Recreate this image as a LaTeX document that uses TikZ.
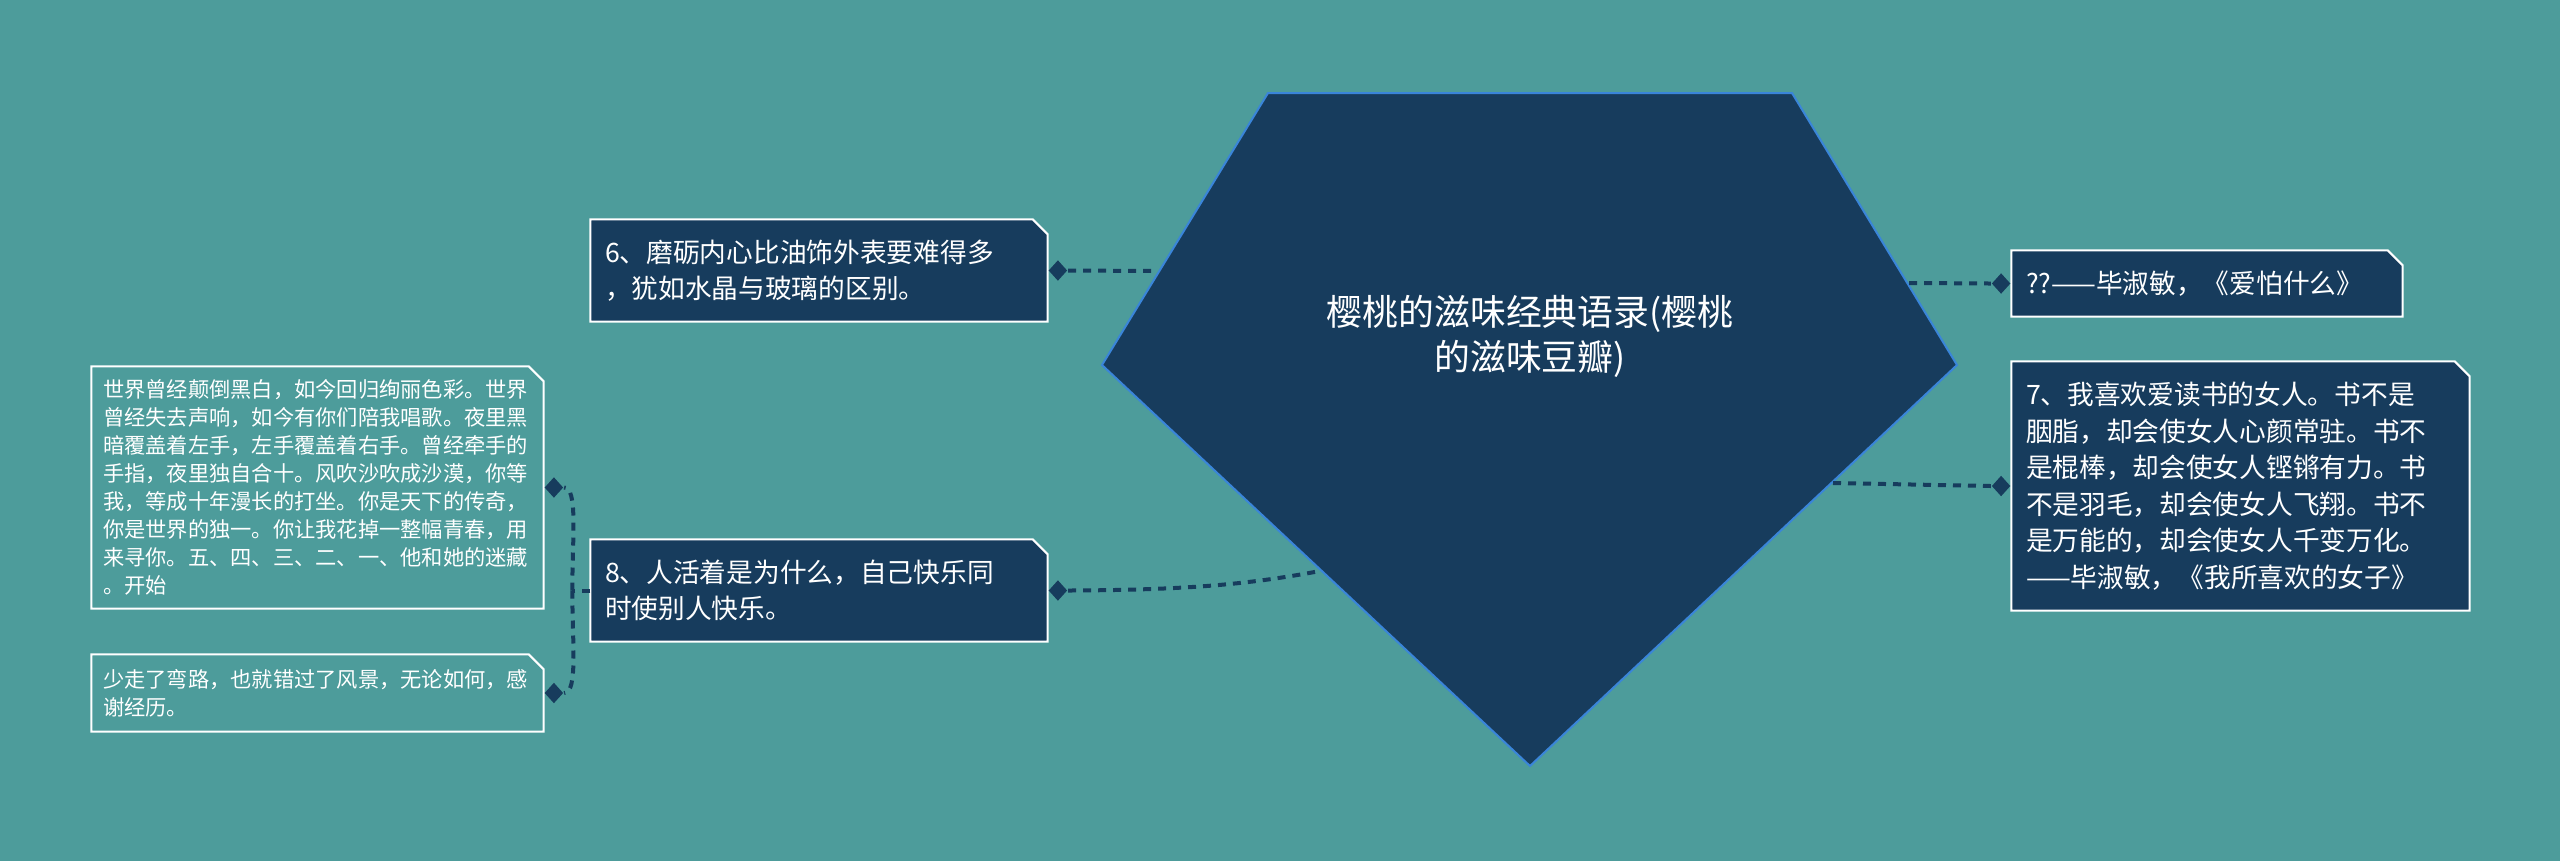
\documentclass[tikz,border=0pt]{standalone}
\usepackage{fontspec}
\newfontfamily\cjk{Noto Sans CJK SC}
\usetikzlibrary{positioning,shapes.geometric,backgrounds}
\definecolor{bgteal}{HTML}{4D9C9B}
\definecolor{navy}{HTML}{173C5D}
\definecolor{rimblue}{HTML}{3A85D9}

% box with the top right corner cut off
\newcommand{\cutframe}[2]{%
  \filldraw[frame, fill=#2] (#1.north west) -- ([xshift=-1.5mm]#1.north east)
    -- ([yshift=-1.5mm]#1.north east) -- (#1.south east) -- (#1.south west) -- cycle;}

\begin{document}
\begin{tikzpicture}[
  x=0.1mm, y=-0.1mm,
  quote/.style={inner xsep=1.4mm, inner ysep=0pt, align=left, text=white,
                font=\cjk\fontsize{7.6}{10.4}\selectfont},
  smallquote/.style={quote, inner xsep=1.1mm, font=\cjk\fontsize{6.05}{7.95}\selectfont},
  knob/.style={diamond, fill=navy, inner sep=0pt, minimum width=1.9mm, minimum height=2.1mm},
  link/.style={navy, line width=0.4mm, dash pattern=on 0.8mm off 0.7mm},
  frame/.style={draw=white, line width=0.2mm},
]
\useasboundingbox (0,0) rectangle (2560,861);

% Central topic
\node[text=white, align=center, font=\cjk\fontsize{10.2}{12.8}\selectfont] (title) at (1530,336)
  {樱桃的滋味经典语录(樱桃\\的滋味豆瓣)};

% Left branch
\node[quote, text width=42.8mm, minimum height=10.1mm] (grind) at (819,270.5)
  {6、磨砺内心比油饰外表要难得多\\，犹如水晶与玻璃的区别。};
\node[quote, text width=42.8mm, minimum height=10.1mm] (purpose) at (819,590.5)
  {8、人活着是为什么，自己快乐同\\时使别人快乐。};
\node[knob, right=0mm of grind] (grindknob) {};
\node[knob, right=0mm of purpose] (purposeknob) {};

% Children of 8
\node[smallquote, text width=42.9mm, minimum height=24.1mm] (world) at (317.5,487.5)
  {世界曾经颠倒黑白，如今回归绚丽色彩。世界\\曾经失去声响，如今有你们陪我唱歌。夜里黑\\暗覆盖着左手，左手覆盖着右手。曾经牵手的\\手指，夜里独自合十。风吹沙吹成沙漠，你等\\我，等成十年漫长的打坐。你是天下的传奇，\\你是世界的独一。你让我花掉一整幅青春，用\\来寻你。五、四、三、二、一、他和她的迷藏\\。开始};
\node[smallquote, text width=42.9mm, minimum height=7.6mm] (detour) at (317.5,693)
  {少走了弯路，也就错过了风景，无论如何，感\\谢经历。};
\node[knob, right=0mm of world] (worldknob) {};
\node[knob, right=0mm of detour] (detourknob) {};

% Right branch
\node[quote, text width=36.2mm, minimum height=6.5mm] (fear) at (2207,283.5)
  {??——毕淑敏，《爱怕什么》};
\node[quote, text width=42.9mm, minimum height=24.8mm] (reader) at (2240.5,486)
  {7、我喜欢爱读书的女人。书不是\\胭脂，却会使女人心颜常驻。书不\\是棍棒，却会使女人铿锵有力。书\\不是羽毛，却会使女人飞翔。书不\\是万能的，却会使女人千变万化。\\——毕淑敏，《我所喜欢的女子》};
\node[knob, left=0mm of fear] (fearknob) {};
\node[knob, left=0mm of reader] (readerknob) {};

% Ends on the pentagon edge
\coordinate (grindend) at (1157,271);
\coordinate (purposeend) at (1320,571);
\coordinate (fearend) at (1909,283);
\coordinate (readerend) at (1833,483);

% Connectors
\draw[link] (grindknob.east) -- (grindend);
\draw[link] (purposeknob.east) .. controls (1190,590) and (1250,584) .. (purposeend);
\draw[link] (fearend) -- (fearknob.west);
\draw[link] (readerend) -- (readerknob.west);
\draw[link] (purpose.west) -- ++(-18,0) coordinate (fork);
\draw[link] (fork) .. controls +(0,-52) and +(14,0) .. (worldknob.east);
\draw[link] (fork) .. controls +(0,52) and +(14,0) .. (detourknob.east);

\begin{scope}[on background layer]
  \fill[bgteal] (0,0) rectangle (2560,861);
  \filldraw[fill=navy, draw=rimblue, line width=0.2mm]
    (1268,93) -- (1792,93) -- (1957,365) -- (1530,766) -- (1102,365) -- cycle;
  \cutframe{grind}{navy}
  \cutframe{purpose}{navy}
  \cutframe{fear}{navy}
  \cutframe{reader}{navy}
  \cutframe{world}{bgteal}
  \cutframe{detour}{bgteal}
\end{scope}
\end{tikzpicture}
\end{document}
